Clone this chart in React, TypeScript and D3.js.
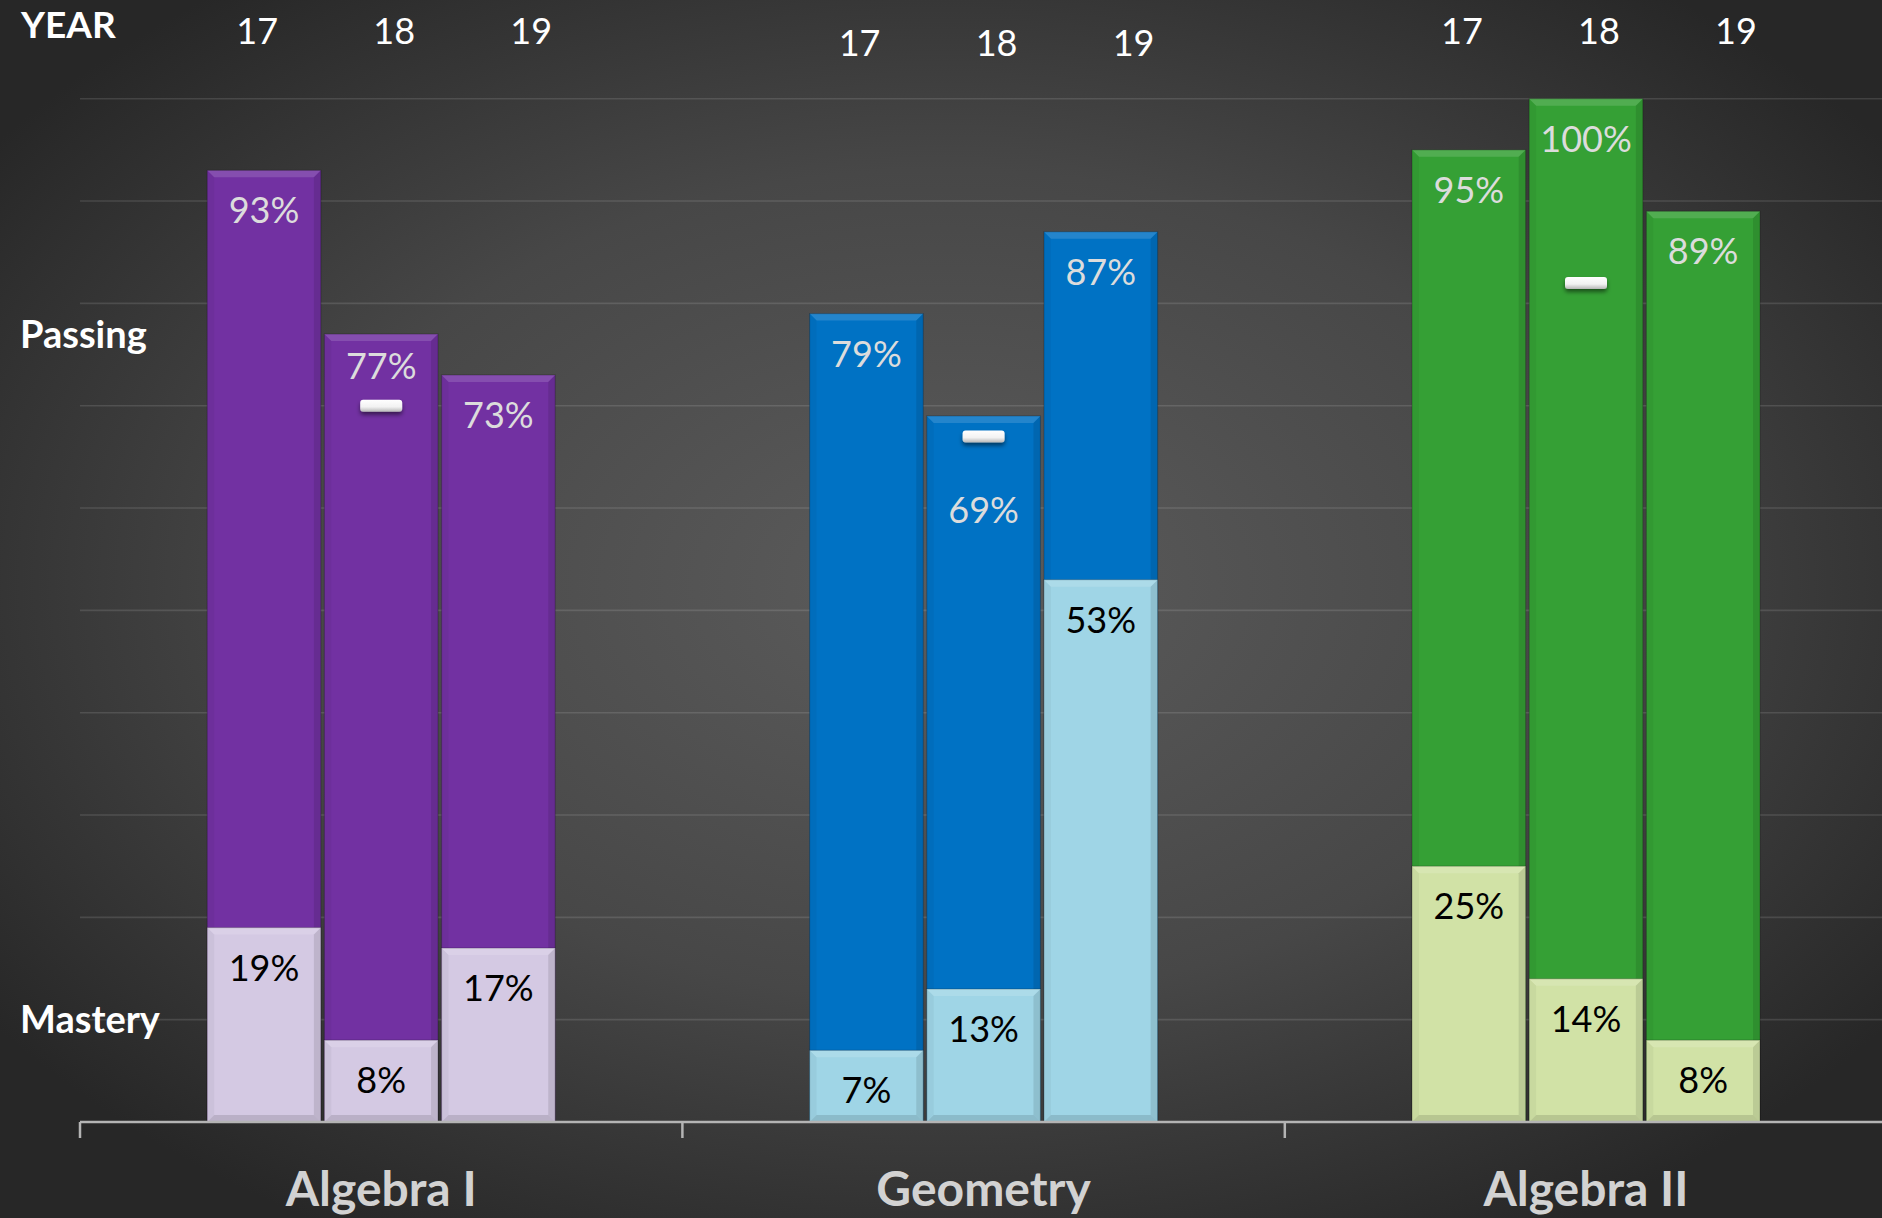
import React from "react";
import * as d3 from "d3";

const subjects = ["Algebra I", "Geometry", "Algebra II"];
const years = ["17", "18", "19"];
// passing % per subject, by year
const passing = [
  [93, 77, 73],
  [79, 69, 87],
  [95, 100, 89],
];
// mastery % per subject, by year
const mastery = [
  [19, 8, 17],
  [7, 13, 53],
  [25, 14, 8],
];
// white dash drawn on the "18" bar of each subject
const marker18 = [70, 67, 82];

const passingColors = ["#7231a2", "#0072c4", "#35a035"];
const masteryColors = ["#d4c9e3", "#9fd5e6", "#d1e2a6"];

const W = 1882;
const H = 1218;
const FONT = "Lato, 'Open Sans', sans-serif";

function Bevel({ x0, y0, w, h }: { x0: number; y0: number; w: number; h: number }) {
  const b = Math.min(7, h / 2);
  const x1 = x0 + w;
  const y1 = y0 + h;
  const pts = (p: number[][]) => p.map((q) => q.join(",")).join(" ");
  return (
    <g pointerEvents="none">
      <polygon points={pts([[x0, y0], [x1, y0], [x1 - b, y0 + b], [x0 + b, y0 + b]])} fill="#fff" opacity={0.14} />
      <polygon points={pts([[x0, y0], [x0 + b, y0 + b], [x0 + b, y1 - b], [x0, y1]])} fill="#000" opacity={0.04} />
      <polygon points={pts([[x1, y0], [x1 - b, y0 + b], [x1 - b, y1 - b], [x1, y1]])} fill="#000" opacity={0.1} />
      <polygon points={pts([[x0, y1], [x0 + b, y1 - b], [x1 - b, y1 - b], [x1, y1]])} fill="#000" opacity={0.12} />
      <rect x={x0} y={y0} width={w} height={h} fill="none" stroke="#000" strokeOpacity={0.2} strokeWidth={1.2} />
    </g>
  );
}

export default function App() {
  const x = d3.scaleBand<string>().domain(subjects).range([80, 80 + 3 * 602.4]);
  const groupW = 348;
  const inner = d3.scaleBand<string>().domain(years).range([0, groupW]).paddingInner(0.03);
  const yearPos = d3.scalePoint<string>().domain(years).range([-124, 150]);
  const y = d3.scaleLinear().domain([0, 100]).range([1122, 98.7]);
  const bw = inner.bandwidth();
  const baseY = y(0);

  const groupLeft = (s: string) => (x(s) as number) + (x.bandwidth() - groupW) / 2;
  const groupCenter = (s: string) => (x(s) as number) + x.bandwidth() / 2;

  return (
    <div style={{ position: "absolute", left: 0, top: 0 }}>
      <svg width={W} height={H} style={{ display: "block" }}>
        <defs>
          <radialGradient id="bg" cx="50%" cy="48%" r="62%">
            <stop offset="0%" stopColor="#5c5c5c" />
            <stop offset="55%" stopColor="#474747" />
            <stop offset="100%" stopColor="#272727" />
          </radialGradient>
          <linearGradient id="dash" x1="0" y1="0" x2="0" y2="1">
            <stop offset="0%" stopColor="#ffffff" />
            <stop offset="60%" stopColor="#f2f2f2" />
            <stop offset="100%" stopColor="#b8b8b8" />
          </linearGradient>
          <filter id="dashShadow" x="-30%" y="-60%" width="160%" height="260%">
            <feDropShadow dx="0" dy="3" stdDeviation="2" floodColor="#000" floodOpacity="0.5" />
          </filter>
        </defs>
        <rect width={W} height={H} fill="url(#bg)" />

        {/* gridlines */}
        {y.ticks(10).filter((t) => t > 0).map((t) => (
          <line key={t} x1={80} x2={W} y1={y(t)} y2={y(t)} stroke="#ffffff" strokeOpacity={0.12} strokeWidth={1.6} />
        ))}

        {/* bars */}
        {subjects.map((s, si) => (
          <g key={s}>
            {years.map((yr, yi) => {
              const bx = groupLeft(s) + (inner(yr) as number);
              const pTop = y(passing[si][yi]);
              const mTop = y(mastery[si][yi]);
              const hasMarker = yr === "18";
              const markY = hasMarker ? y(marker18[si]) : 0;
              let pLabelY = pTop + 53;
              if (hasMarker && markY - pTop < 60) pLabelY = markY + 87;
              else if (hasMarker && markY - pTop < 80) pLabelY = pTop + 45;
              return (
                <g key={yr}>
                  <rect x={bx} y={pTop} width={bw} height={baseY - pTop} fill={passingColors[si]} />
                  <Bevel x0={bx} y0={pTop} w={bw} h={baseY - pTop} />
                  <rect x={bx} y={mTop} width={bw} height={baseY - mTop} fill={masteryColors[si]} />
                  <Bevel x0={bx} y0={mTop} w={bw} h={baseY - mTop} />
                  <text x={bx + bw / 2} y={pLabelY} textAnchor="middle" fill="#dcdcdc" fontFamily={FONT} fontSize={36}>
                    {passing[si][yi]}%
                  </text>
                  <text x={bx + bw / 2} y={mTop + 53} textAnchor="middle" fill="#000" fontFamily={FONT} fontSize={36}>
                    {mastery[si][yi]}%
                  </text>
                  {hasMarker && (
                    <rect x={bx + bw / 2 - 21} y={markY - 6} width={42} height={12} rx={3} fill="url(#dash)" filter="url(#dashShadow)" />
                  )}
                </g>
              );
            })}
            <text x={groupCenter(s)} y={1206} textAnchor="middle" fill="#d2d2d2" fontFamily={FONT} fontWeight={700} fontSize={48}>
              {s}
            </text>
            {years.map((yr) => (
              <text key={yr} x={groupCenter(s) + (yearPos(yr) as number)} y={s === "Geometry" ? 56 : 44} textAnchor="middle" fill="#fff" fontFamily={FONT} fontSize={36}>
                {yr}
              </text>
            ))}
          </g>
        ))}

        {/* x axis */}
        <line x1={80} x2={W} y1={baseY} y2={baseY} stroke="#b4b4b4" strokeWidth={2.5} />
        {subjects.map((s) => (
          <line key={s} x1={x(s) as number} x2={x(s) as number} y1={baseY} y2={baseY + 16} stroke="#b4b4b4" strokeWidth={2.5} />
        ))}

        <text x={21} y={38} fill="#fff" fontFamily={FONT} fontWeight={700} fontSize={37}>YEAR</text>
        <text x={20} y={348} fill="#fff" fontFamily={FONT} fontWeight={700} fontSize={38}>Passing</text>
        <text x={20} y={1033} fill="#fff" fontFamily={FONT} fontWeight={700} fontSize={38}>Mastery</text>
      </svg>
    </div>
  );
}
